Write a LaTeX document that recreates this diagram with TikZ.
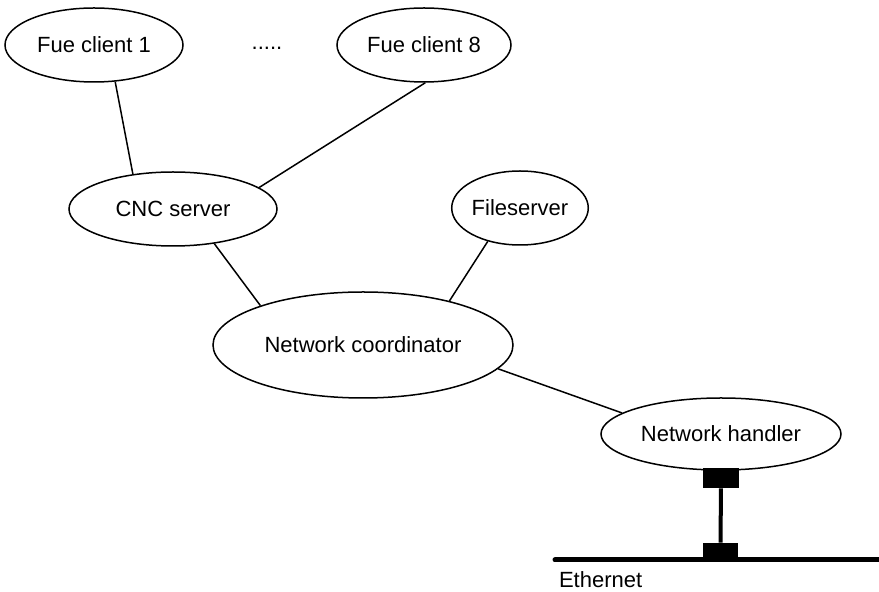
\documentclass[tikz,border=0pt]{standalone}
\usepackage{fontspec}
\setmainfont{Liberation Sans}
\usetikzlibrary{shapes.geometric}

\begin{document}
\begin{tikzpicture}[x=0.5pt,y=-0.5pt,
    every node/.style={font=\fontsize{11}{13}\selectfont},
    proc/.style={draw,ellipse,line width=0.75pt,inner sep=0pt},
    port/.style={fill=black,inner sep=0pt},
    link/.style={line width=0.75pt}]
  \useasboundingbox (0,0) rectangle (879,592);
  \node[proc,minimum width=89pt,minimum height=37pt] (fc1) at (94,45) {Fue client 1};
  \node[proc,minimum width=87pt,minimum height=37pt] (fc8) at (424,45) {Fue client 8};
  \node (dots) at (267,48) {.....};
  \node[proc,minimum width=104pt,minimum height=37pt] (cnc) at (173,209) {CNC server};
  \node[proc,minimum width=67pt,minimum height=37pt] (fs) at (520,208) {Fileserver};
  \node[proc,minimum width=150pt,minimum height=53pt] (nc) at (363,345) {Network coordinator};
  \node[proc,minimum width=120pt,minimum height=36pt] (nh) at (721,434) {Network handler};
  \node[port,minimum width=18pt,minimum height=10pt] (p1) at (721,478) {};
  \node[port,minimum width=17.5pt,minimum height=8.5pt] (p2) at (720.5,551.5) {};
  \coordinate (ethl) at (555,560);
  \coordinate (ethr) at (879,560);
  \node[anchor=west] (eth) at (552,580) {Ethernet};
  \draw[link] (fc1.-60) -- (cnc.139);
  \draw[link] (fc8.-88) -- (cnc.14);
  \draw[link] (cnc.-40) -- (nc.159);
  \draw[link] (fs.-134) -- (nc.27);
  \draw[link] (nc.-10) -- (nh.168);
  \draw[line width=2pt] (p1) -- (p2);
  \draw[line width=2.5pt,line cap=round] (ethl) -- (ethr);
\end{tikzpicture}
\end{document}
